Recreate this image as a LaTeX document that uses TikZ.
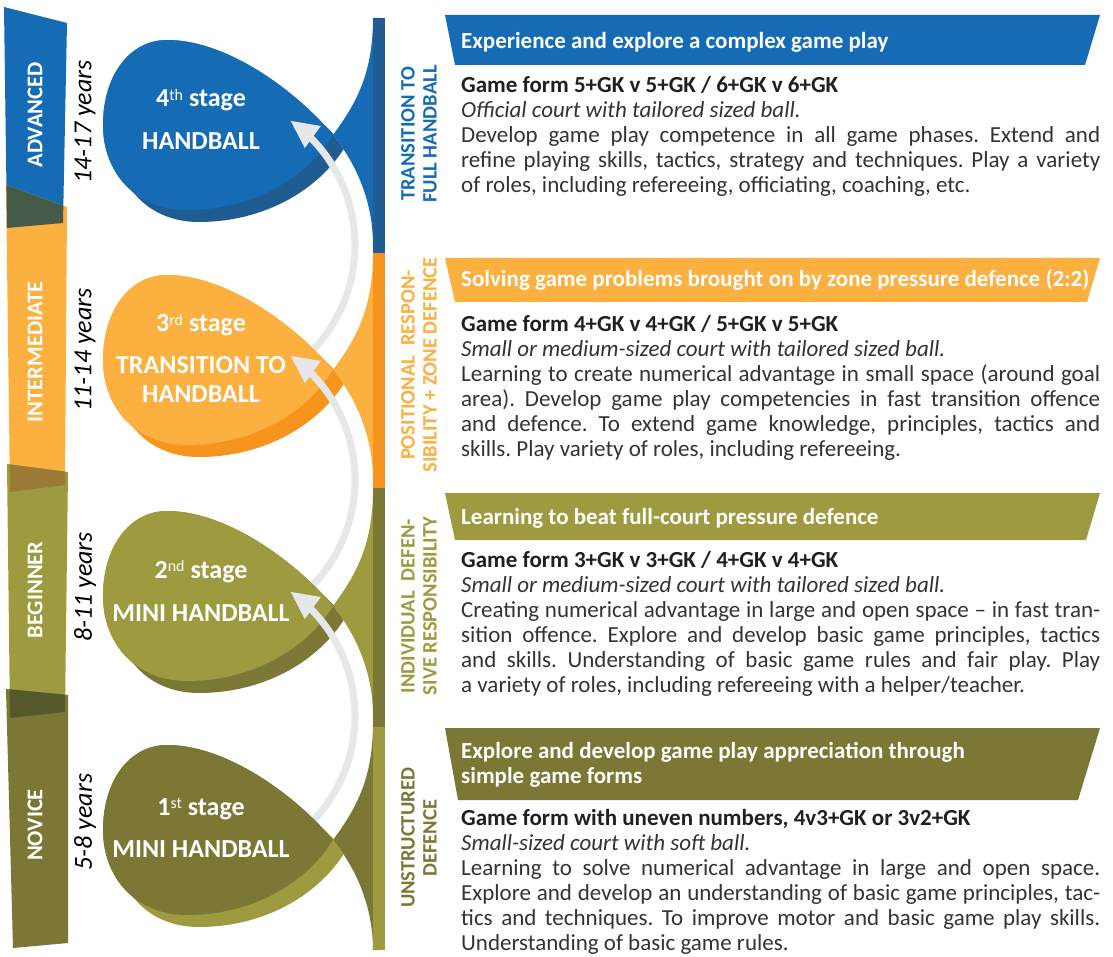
\documentclass[tikz,border=0pt]{standalone}
\usepackage{fontspec}
\setmainfont{Carlito}
\usetikzlibrary{arrows.meta}
\definecolor{cblue}{HTML}{156CB5}
\definecolor{cblued}{HTML}{1E5C91}
\definecolor{corange}{HTML}{FBB040}
\definecolor{coranged}{HTML}{F7941E}
\definecolor{colive}{HTML}{9D9A3F}
\definecolor{colived}{HTML}{7B7735}
\definecolor{ovone}{HTML}{465A4A}
\definecolor{ovtwo}{HTML}{9B7936}
\definecolor{ovthree}{HTML}{55572C}
\definecolor{arrowgray}{HTML}{E6E7E8}
\definecolor{txt}{HTML}{333333}
\definecolor{txtb}{HTML}{231F20}
\tolerance=10000
\hyphenpenalty=10000
\frenchspacing
\newcommand\looppath{(373,18) .. controls (373,75) and (355,105) .. (333,135) .. controls (305,180) and (250,210) .. (187,210) .. controls (135,210) and (103,172) .. (103,125) .. controls (103,75) and (130,40) .. (167,40) .. controls (230,40) and (300,95) .. (333,135) .. controls (355,162) and (373,200) .. (373,245) -- (380,245) -- (380,18) -- cycle}
\newcommand\leafpath{(333,135) .. controls (305,180) and (250,210) .. (187,210) .. controls (135,210) and (103,172) .. (103,125) .. controls (103,75) and (130,40) .. (167,40) .. controls (230,40) and (300,95) .. (333,135) -- cycle}
\newcommand\shadowclip{(0,0) -- (400,0) -- (400,135) -- (333,135) .. controls (355,162) and (373,200) .. (373,245) -- (373,300) -- (0,300) -- cycle}
\newcommand\drawstage[3]{%
  \begin{scope}[shift={(0,#1)}]
    \fill[#2] \looppath;
    \begin{scope}
      \clip \shadowclip;
      \fill[#3, shift={(12,12)}] \leafpath;
    \end{scope}
    \fill[#2] \leafpath;
  \end{scope}}
\newcommand\drawprogarrow[1]{%
  \draw[progarrow, shift={(0,#1)}] plot[smooth, domain=-50:55, samples=30] ({203+152*cos(\x)},{245-152*sin(\x)});}
\newcommand\supr[1]{\raisebox{0.55ex}{\fontsize{16}{16}\selectfont\mdseries #1}}
\begin{document}
\begin{tikzpicture}[x=1pt,y=-1pt,
  stagelbl/.style={text=white,font=\bfseries\fontsize{26}{29}\selectfont,inner sep=0,anchor=base},
  levellbl/.style={text=white,rotate=90,font=\bfseries\fontsize{22.5}{24}\selectfont,inner sep=0},
  agelbl/.style={text=black,rotate=90,font=\itshape\fontsize{26}{28}\selectfont,inner sep=0},
  sidelbl/.style={rotate=90,font=\bfseries\fontsize{20.5}{22}\selectfont,align=center,inner sep=0},
  bantext/.style={text=white,font=\bfseries\fontsize{23}{25}\selectfont,anchor=north west,inner sep=0,align=left},
  bodytext/.style={text=txt,font=\fontsize{23}{25}\selectfont,anchor=north west,inner sep=0,text width=639pt,align=justify},
  progarrow/.style={draw=arrowgray,line width=7pt,-{Triangle[length=28pt,width=25pt]}},
]
\fill[white] (0,0) rectangle (1113,957);
\useasboundingbox (0,0) rectangle (1113,957);
% level bars
\fill[cblue] (4,7) -- (67,23) -- (63,223) -- (7,228) -- cycle;
\fill[corange] (6,185) -- (67,207) -- (65,485) -- (10,492) -- cycle;
\fill[colive] (7,464) -- (68,472) -- (65,712) -- (10,718) -- cycle;
\fill[colived] (6,689) -- (68,695) -- (68,943) -- (13,948) -- cycle;
\begin{scope}
  \clip (4,7) -- (67,23) -- (63,223) -- (7,228) -- cycle;
  \fill[ovone] (6,185) -- (67,207) -- (65,485) -- (10,492) -- cycle;
\end{scope}
\begin{scope}
  \clip (6,185) -- (67,207) -- (65,485) -- (10,492) -- cycle;
  \fill[ovtwo] (7,464) -- (68,472) -- (65,712) -- (10,718) -- cycle;
\end{scope}
\begin{scope}
  \clip (7,464) -- (68,472) -- (65,712) -- (10,718) -- cycle;
  \fill[ovthree] (6,689) -- (68,695) -- (68,943) -- (13,948) -- cycle;
\end{scope}
\node[levellbl] (lv4) at (35,115) {ADVANCED};
\node[levellbl] (lv3) at (35,352) {INTERMEDIATE};
\node[levellbl] (lv2) at (35,590) {BEGINNER};
\node[levellbl] (lv1) at (35,825) {NOVICE};
\node[agelbl] (ag4) at (85,122) {14-17 years};
\node[agelbl] (ag3) at (85,350) {11-14 years};
\node[agelbl] (ag2) at (85,587) {8-11 years};
\node[agelbl] (ag1) at (85,822) {5-8 years};
% stages
\drawstage{0}{cblue}{cblued}
\drawprogarrow{0}
\drawstage{235}{corange}{coranged}
\drawprogarrow{235}
\drawstage{471}{colive}{colived}
\drawprogarrow{471}
\drawstage{705}{colived}{colive}
% right bar
\fill[cblued] (373,18) rectangle (385,253);
\fill[coranged] (373,253) rectangle (385,488);
\fill[colived] (373,488) rectangle (385,727);
\fill[colive] (373,727) rectangle (385,950);
% stage texts
\node[stagelbl] (s4a) at (201,107) {4\supr{th} stage};
\node[stagelbl] (s4b) at (201,150) {HANDBALL};
\node[stagelbl] (s3a) at (201,332) {3\supr{rd} stage};
\node[stagelbl] (s3b) at (201,373) {TRANSITION TO};
\node[stagelbl] (s3c) at (201,402) {HANDBALL};
\node[stagelbl] (s2a) at (201,578) {2\supr{nd} stage};
\node[stagelbl] (s2b) at (201,621) {MINI HANDBALL};
\node[stagelbl] (s1a) at (201,815) {1\supr{st} stage};
\node[stagelbl] (s1b) at (201,857) {MINI HANDBALL};
% side labels
\node[sidelbl,text=cblue] (sd4) at (419,134) {TRANSITION TO\\FULL HANDBALL};
\node[sidelbl,text=corange] (sd3) at (419,365) {POSITIONAL\hspace{0.5em}RESPON-\\SIBILITY + ZONE DEFENCE};
\node[sidelbl,text=colive] (sd2) at (419,606) {INDIVIDUAL\hspace{0.5em}DEFEN-\\SIVE RESPONSIBILITY};
\node[sidelbl,text=colived] (sd1) at (419,838) {UNSTRUCTURED\\DEFENCE};
% banners
\fill[cblue] (445,15) -- (1100,15) -- (1085,65) -- (455,65) -- cycle;
\fill[corange] (445,258) -- (1100,258) -- (1087,302) -- (455,302) -- cycle;
\fill[colive] (445,493) -- (1100,493) -- (1086,540) -- (455,540) -- cycle;
\fill[colived] (445,728) -- (1100,728) -- (1078,800) -- (458,800) -- cycle;
\node[bantext] (bn4) at (461,28) {\rule{0pt}{20pt}Experience and explore a complex game play};
\node[bantext] (bn3) at (461,266) {\rule{0pt}{20pt}Solving game problems brought on by zone pressure defence (2:2)};
\node[bantext] (bn2) at (461,504) {\rule{0pt}{20pt}Learning to beat full-court pressure defence};
\node[bantext] (bn1) at (461,738) {\rule{0pt}{20pt}Explore and develop game play appreciation through\\simple game forms};
% body
\node[bodytext] (bd4) at (461,72) {\rule{0pt}{20pt}{\color{txtb}\bfseries Game form 5+GK v 5+GK / 6+GK v 6+GK}\\
\textit{Official court with tailored sized ball.}\\
Develop game play competence in all game phases. Extend and\linebreak refine playing skills, tactics, strategy and techniques. Play a variety\linebreak of roles, including refereeing, officiating, coaching, etc.};
\node[bodytext] (bd3) at (461,311) {\rule{0pt}{20pt}{\color{txtb}\bfseries Game form 4+GK v 4+GK / 5+GK v 5+GK}\\
\textit{Small or medium-sized court with tailored sized ball.}\\
Learning to create numerical advantage in small space (around goal\linebreak area). Develop game play competencies in fast transition offence\linebreak and defence. To extend game knowledge, principles, tactics and\linebreak skills. Play variety of roles, including refereeing.};
\node[bodytext] (bd2) at (461,547) {\rule{0pt}{20pt}{\color{txtb}\bfseries Game form 3+GK v 3+GK / 4+GK v 4+GK}\\
\textit{Small or medium-sized court with tailored sized ball.}\\
Creating numerical advantage in large and open space -- in fast tran-\linebreak sition offence. Explore and develop basic game principles, tactics\linebreak and skills. Understanding of basic game rules and fair play. Play\linebreak a variety of roles, including refereeing with a helper/teacher.};
\node[bodytext] (bd1) at (461,805) {\rule{0pt}{20pt}{\color{txtb}\bfseries Game form with uneven numbers, 4v3+GK or 3v2+GK}\\
\textit{Small-sized court with soft ball.}\\
Learning to solve numerical advantage in large and open space.\linebreak Explore and develop an understanding of basic game principles, tac-\linebreak tics and techniques. To improve motor and basic game play skills.\linebreak Understanding of basic game rules.};
\end{tikzpicture}
\end{document}
